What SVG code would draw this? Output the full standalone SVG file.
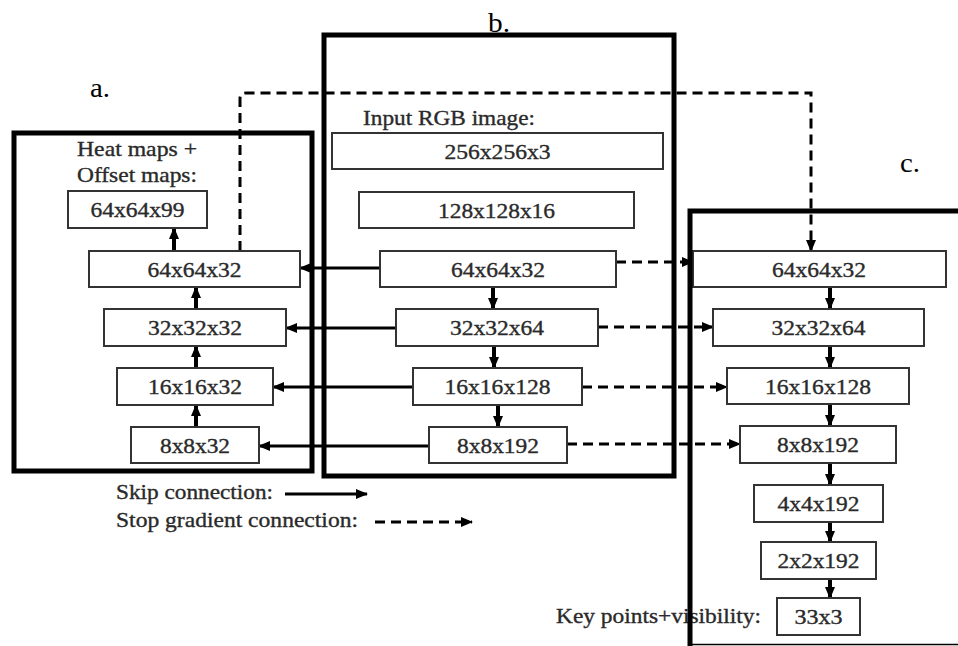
<svg xmlns="http://www.w3.org/2000/svg" width="958" height="646" viewBox="0 0 958 646">
<style>
.bg{fill:#fff}
.node rect{fill:#fff;stroke:#333;stroke-width:2}
.t{font-family:"Liberation Serif","Times New Roman",serif;font-size:21px;fill:#2a2a2a;stroke:#2a2a2a;stroke-width:0.35}
.c{text-anchor:middle}
.lab{font-family:"Liberation Serif","Times New Roman",serif;font-size:27px;fill:#000}
.solid{stroke:#000;stroke-width:3;fill:none;marker-end:url(#ah)}
.up{stroke:#000;stroke-width:4;fill:none;marker-end:url(#ah)}
.dash{stroke:#000;stroke-width:3;fill:none;stroke-dasharray:10 6;marker-end:url(#ah)}
.frame{fill:none;stroke:#000;stroke-width:5}
</style>
<defs>
<marker id="ah" markerWidth="12" markerHeight="10" refX="11" refY="5" orient="auto" markerUnits="userSpaceOnUse">
<path d="M0,0 L12,5 L0,10 z" fill="#000"/>
</marker>
</defs>
<rect class="bg" x="0" y="0" width="958" height="646"/>

<text class="lab" x="90" y="97" textLength="20" lengthAdjust="spacingAndGlyphs">a.</text>
<text class="lab" x="488" y="32" textLength="22" lengthAdjust="spacingAndGlyphs">b.</text>
<text class="lab" x="900" y="172" textLength="20" lengthAdjust="spacingAndGlyphs">c.</text>

<text class="t" x="77" y="156" textLength="120" lengthAdjust="spacingAndGlyphs">Heat maps +</text>
<text class="t" x="77" y="182" textLength="120" lengthAdjust="spacingAndGlyphs">Offset maps:</text>
<text class="t" x="363" y="125" textLength="172" lengthAdjust="spacingAndGlyphs">Input RGB image:</text>
<text class="t" x="556" y="623" textLength="205" lengthAdjust="spacingAndGlyphs">Key points+visibility:</text>

<g id="connectors">
<line class="up" x1="174" y1="251" x2="174" y2="228"/>
<line class="up" x1="196" y1="309" x2="196" y2="287"/>
<line class="up" x1="196" y1="368" x2="196" y2="346"/>
<line class="up" x1="196" y1="427" x2="196" y2="405"/>
<line class="up" x1="493" y1="287" x2="493" y2="309"/>
<line class="up" x1="494" y1="346" x2="494" y2="368"/>
<line class="up" x1="498" y1="405" x2="498" y2="427"/>
<line class="up" x1="830" y1="287" x2="830" y2="309"/>
<line class="up" x1="830" y1="346" x2="830" y2="368"/>
<line class="up" x1="830" y1="404" x2="830" y2="426"/>
<line class="up" x1="830" y1="463" x2="830" y2="485"/>
<line class="up" x1="830" y1="522" x2="830" y2="542"/>
<line class="up" x1="830" y1="579" x2="830" y2="598"/>
<line class="solid" x1="380" y1="268" x2="300" y2="268"/>
<line class="solid" x1="396" y1="328" x2="286" y2="328"/>
<line class="solid" x1="413" y1="387" x2="273" y2="387"/>
<line class="solid" x1="429" y1="446" x2="259" y2="446"/>
<line class="dash" x1="616" y1="262" x2="693" y2="262"/>
<line class="dash" x1="598" y1="327" x2="713" y2="327"/>
<line class="dash" x1="582" y1="387" x2="727" y2="387"/>
<line class="dash" x1="567" y1="444" x2="740" y2="444"/>
<path class="dash" d="M240,251 V99 Q240,93 246,93 H811 V251"/>
<line class="solid" x1="285" y1="494" x2="367" y2="494"/>
<line class="dash" x1="375" y1="522" x2="472" y2="522"/>
</g>

<text class="t" x="116" y="499" textLength="157" lengthAdjust="spacingAndGlyphs">Skip connection:</text>
<text class="t" x="116" y="527" textLength="242" lengthAdjust="spacingAndGlyphs">Stop gradient connection:</text>

<g id="a_64x64x99" class="node"><rect x="68" y="191" width="139" height="37"/><text class="t c" x="137.5" y="217" textLength="94" lengthAdjust="spacingAndGlyphs">64x64x99</text></g>
<g id="a_64x64x32" class="node"><rect x="89" y="251" width="211" height="36"/><text class="t c" x="194.5" y="277" textLength="94" lengthAdjust="spacingAndGlyphs">64x64x32</text></g>
<g id="a_32x32x32" class="node"><rect x="104" y="309" width="182" height="37"/><text class="t c" x="195" y="335" textLength="94" lengthAdjust="spacingAndGlyphs">32x32x32</text></g>
<g id="a_16x16x32" class="node"><rect x="117" y="368" width="156" height="37"/><text class="t c" x="195" y="394" textLength="94" lengthAdjust="spacingAndGlyphs">16x16x32</text></g>
<g id="a_8x8x32" class="node"><rect x="131" y="427" width="128" height="36"/><text class="t c" x="195" y="453" textLength="70" lengthAdjust="spacingAndGlyphs">8x8x32</text></g>

<g id="b_256x256x3" class="node"><rect x="332" y="133" width="331" height="36"/><text class="t c" x="497.5" y="159" textLength="106" lengthAdjust="spacingAndGlyphs">256x256x3</text></g>
<g id="b_128x128x16" class="node"><rect x="359" y="192" width="275" height="36"/><text class="t c" x="496.5" y="218" textLength="117" lengthAdjust="spacingAndGlyphs">128x128x16</text></g>
<g id="b_64x64x32" class="node"><rect x="380" y="251" width="236" height="36"/><text class="t c" x="498" y="277" textLength="94" lengthAdjust="spacingAndGlyphs">64x64x32</text></g>
<g id="b_32x32x64" class="node"><rect x="396" y="309" width="202" height="37"/><text class="t c" x="497" y="335" textLength="94" lengthAdjust="spacingAndGlyphs">32x32x64</text></g>
<g id="b_16x16x128" class="node"><rect x="413" y="368" width="169" height="37"/><text class="t c" x="497.5" y="394" textLength="106" lengthAdjust="spacingAndGlyphs">16x16x128</text></g>
<g id="b_8x8x192" class="node"><rect x="429" y="427" width="138" height="36"/><text class="t c" x="498" y="453" textLength="82" lengthAdjust="spacingAndGlyphs">8x8x192</text></g>

<g id="c_64x64x32" class="node"><rect x="693" y="251" width="253" height="36"/><text class="t c" x="819" y="277" textLength="94" lengthAdjust="spacingAndGlyphs">64x64x32</text></g>
<g id="c_32x32x64" class="node"><rect x="713" y="309" width="211" height="37"/><text class="t c" x="818.5" y="335" textLength="94" lengthAdjust="spacingAndGlyphs">32x32x64</text></g>
<g id="c_16x16x128" class="node"><rect x="727" y="368" width="182" height="36"/><text class="t c" x="818" y="394" textLength="106" lengthAdjust="spacingAndGlyphs">16x16x128</text></g>
<g id="c_8x8x192" class="node"><rect x="740" y="426" width="156" height="37"/><text class="t c" x="818" y="452" textLength="82" lengthAdjust="spacingAndGlyphs">8x8x192</text></g>
<g id="c_4x4x192" class="node"><rect x="754" y="485" width="129" height="37"/><text class="t c" x="818.5" y="511" textLength="82" lengthAdjust="spacingAndGlyphs">4x4x192</text></g>
<g id="c_2x2x192" class="node"><rect x="761" y="542" width="115" height="37"/><text class="t c" x="818.5" y="568" textLength="82" lengthAdjust="spacingAndGlyphs">2x2x192</text></g>
<g id="c_33x3" class="node"><rect x="777" y="598" width="83" height="37"/><text class="t c" x="818.5" y="624" textLength="48" lengthAdjust="spacingAndGlyphs">33x3</text></g>

<g id="frames">
<rect class="frame" x="14" y="133" width="298" height="338"/>
<rect class="frame" x="324" y="35" width="350" height="441"/>
<path class="frame" d="M960,211 H690 V646"/>
<line x1="690" y1="644.5" x2="958" y2="644.5" stroke="#000" stroke-width="1.5"/>
</g>
</svg>
